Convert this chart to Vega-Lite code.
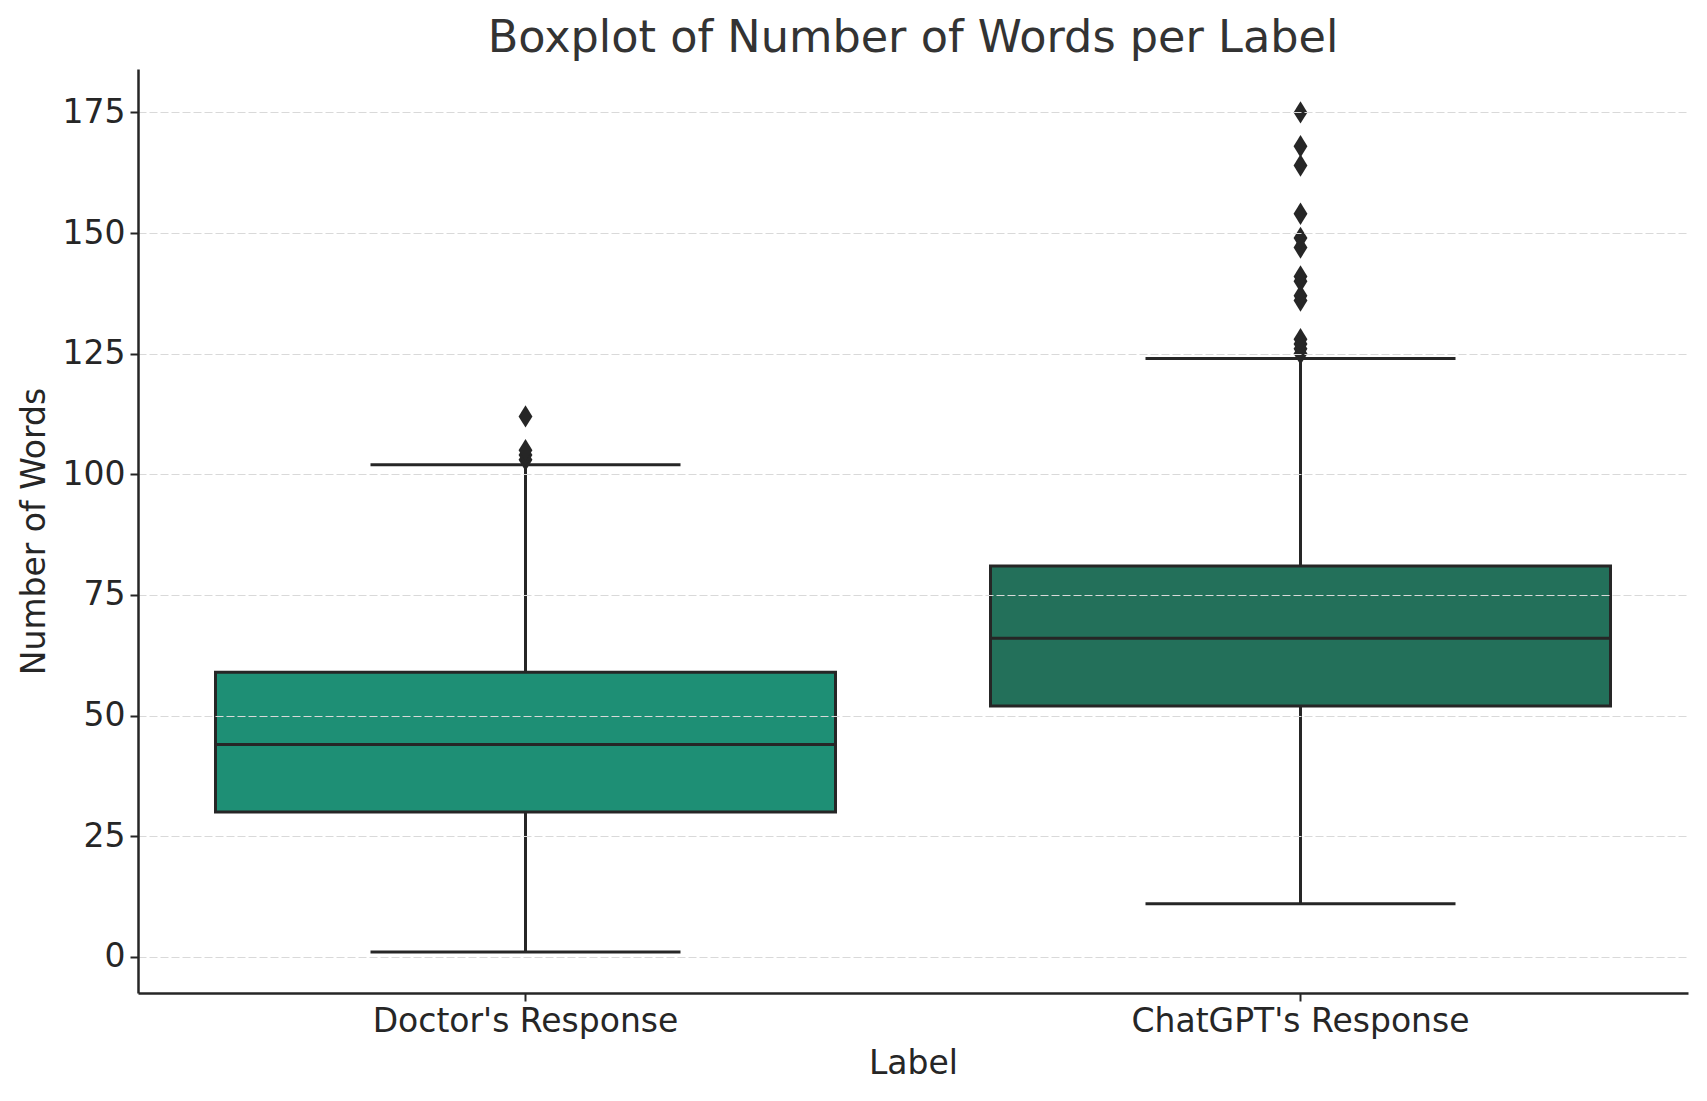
{
  "$schema": "https://vega.github.io/schema/vega-lite/v6.json",
  "width": 1550,
  "height": 924,
  "autosize": "none",
  "padding": {"left": 138, "top": 69, "right": 19, "bottom": 108},
  "background": "white",
  "title": {
    "text": "Boxplot of Number of Words per Label",
    "fontSize": 44.6,
    "font": "DejaVu Sans",
    "fontWeight": "normal",
    "color": "#333333",
    "anchor": "middle",
    "offset": 7
  },
  "config": {
    "font": "DejaVu Sans",
    "view": {"stroke": null},
    "axis": {
      "labelFont": "DejaVu Sans",
      "titleFont": "DejaVu Sans",
      "labelFontSize": 33,
      "titleFontSize": 33,
      "titleFontWeight": "normal",
      "labelColor": "#262626",
      "titleColor": "#262626",
      "domainColor": "#262626",
      "domainWidth": 2.5,
      "tickColor": "#262626",
      "tickWidth": 2,
      "tickSize": 8,
      "labelLimit": 0
    }
  },
  "datasets": {
    "summary": [
      {"label": "Doctor's Response", "lower": 1, "q1": 30, "median": 44, "q3": 59, "upper": 102},
      {"label": "ChatGPT's Response", "lower": 11, "q1": 52, "median": 66, "q3": 81, "upper": 124}
    ],
    "outliers": [
      {"label": "Doctor's Response", "words": 103},
      {"label": "Doctor's Response", "words": 104},
      {"label": "Doctor's Response", "words": 105},
      {"label": "Doctor's Response", "words": 112},
      {"label": "ChatGPT's Response", "words": 125},
      {"label": "ChatGPT's Response", "words": 126},
      {"label": "ChatGPT's Response", "words": 127},
      {"label": "ChatGPT's Response", "words": 128},
      {"label": "ChatGPT's Response", "words": 136},
      {"label": "ChatGPT's Response", "words": 137},
      {"label": "ChatGPT's Response", "words": 140},
      {"label": "ChatGPT's Response", "words": 141},
      {"label": "ChatGPT's Response", "words": 147},
      {"label": "ChatGPT's Response", "words": 149},
      {"label": "ChatGPT's Response", "words": 154},
      {"label": "ChatGPT's Response", "words": 164},
      {"label": "ChatGPT's Response", "words": 168},
      {"label": "ChatGPT's Response", "words": 175}
    ]
  },
  "encoding": {
    "x": {
      "field": "label",
      "type": "nominal",
      "sort": ["Doctor's Response", "ChatGPT's Response"],
      "scale": {"paddingInner": 0, "paddingOuter": 0},
      "axis": {"title": "Label", "labelAngle": 0, "labelPadding": 4, "titlePadding": 9, "grid": false}
    }
  },
  "layer": [
    {
      "data": {"name": "summary"},
      "mark": {"type": "rule", "color": "#262626", "strokeWidth": 3, "opacity": 1},
      "encoding": {
        "y": {
          "field": "lower",
          "type": "quantitative",
          "scale": {"domain": [-7.5, 184], "nice": false, "zero": false},
          "axis": {
            "title": "Number of Words",
            "values": [0, 25, 50, 75, 100, 125, 150, 175],
            "grid": true,
            "gridColor": "#d9d9d9",
            "gridDash": [8, 3],
            "gridWidth": 1.2,
            "labelPadding": 5,
            "titlePadding": 11,
            "zindex": 1
          }
        },
        "y2": {"field": "upper"}
      }
    },
    {
      "data": {"name": "summary"},
      "mark": {"type": "tick", "color": "#262626", "size": 310, "thickness": 3, "opacity": 1},
      "encoding": {"y": {"field": "lower", "type": "quantitative"}}
    },
    {
      "data": {"name": "summary"},
      "mark": {"type": "tick", "color": "#262626", "size": 310, "thickness": 3, "opacity": 1},
      "encoding": {"y": {"field": "upper", "type": "quantitative"}}
    },
    {
      "data": {"name": "summary"},
      "mark": {"type": "bar", "width": {"band": 0.8}, "stroke": "#262626", "strokeWidth": 3, "opacity": 1},
      "encoding": {
        "y": {"field": "q1", "type": "quantitative"},
        "y2": {"field": "q3"},
        "fill": {
          "field": "label",
          "type": "nominal",
          "scale": {"domain": ["Doctor's Response", "ChatGPT's Response"], "range": ["#1e8f75", "#23705a"]},
          "legend": null
        }
      }
    },
    {
      "data": {"name": "summary"},
      "mark": {"type": "tick", "color": "#262626", "size": 618, "thickness": 3, "opacity": 1},
      "encoding": {"y": {"field": "median", "type": "quantitative"}}
    },
    {
      "data": {"name": "outliers"},
      "mark": {"type": "point", "filled": true, "opacity": 1, "color": "#262626", "shape": "M0,-1L0.62,0L0,1L-0.62,0Z", "size": 500},
      "encoding": {"y": {"field": "words", "type": "quantitative"}}
    }
  ]
}
